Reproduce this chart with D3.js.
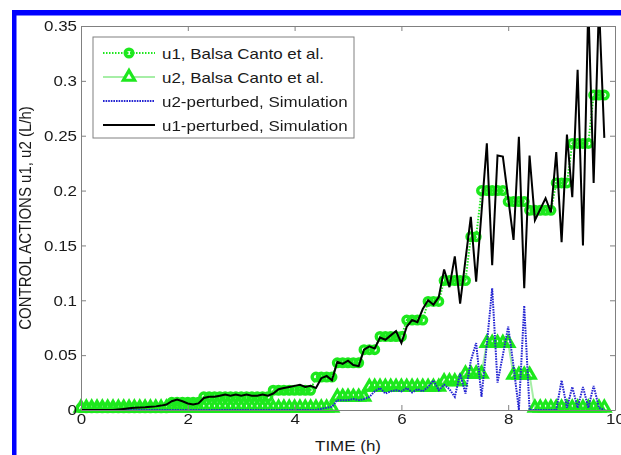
<!DOCTYPE html>
<html lang="en">
<head>
  <meta charset="UTF-8">
  <script src="https://d3js.org/d3.v7.min.js"></script>
  <style>
    body { margin: 0; background: white; }
    text { font-family: 'Liberation Sans', Arial, sans-serif; fill: #1a1a1a; }
  </style>
</head>
<body>
  <svg id="chart" width="621" height="455"></svg>
  <script>
    // time samples (h)
    const time = [0, 0.1, 0.2, 0.3, 0.4, 0.5, 0.6, 0.7, 0.8, 0.9,
      1, 1.1, 1.2, 1.3, 1.4, 1.5, 1.6, 1.7, 1.8, 1.9,
      2, 2.1, 2.2, 2.3, 2.4, 2.5, 2.6, 2.7, 2.8, 2.9,
      3, 3.1, 3.2, 3.3, 3.4, 3.5, 3.6, 3.7, 3.8, 3.9,
      4, 4.1, 4.2, 4.3, 4.4, 4.5, 4.6, 4.7, 4.8, 4.9,
      5, 5.1, 5.2, 5.3, 5.4, 5.5, 5.6, 5.7, 5.8, 5.9,
      6, 6.1, 6.2, 6.3, 6.4, 6.5, 6.6, 6.7, 6.8, 6.9,
      7, 7.1, 7.2, 7.3, 7.4, 7.5, 7.6, 7.7, 7.8, 7.9,
      8, 8.1, 8.2, 8.3, 8.4, 8.5, 8.6, 8.7, 8.8, 8.9,
      9, 9.1, 9.2, 9.3, 9.4, 9.5, 9.6, 9.7, 9.8];

    // u1, Balsa Canto et al. (piecewise constant)
    const u1Balsa = [0.002, 0.002, 0.002, 0.002, 0.002, 0.002, 0.002, 0.002, 0.002, 0.002,
      0.002, 0.002, 0.002, 0.002, 0.002, 0.002, 0.002, 0.007, 0.007, 0.007,
      0.007, 0.007, 0.007, 0.012, 0.012, 0.012, 0.012, 0.012, 0.012, 0.012,
      0.012, 0.012, 0.012, 0.012, 0.012, 0.012, 0.018, 0.018, 0.018, 0.018,
      0.018, 0.018, 0.018, 0.018, 0.030, 0.030, 0.030, 0.030, 0.043, 0.043,
      0.043, 0.043, 0.043, 0.055, 0.055, 0.055, 0.067, 0.067, 0.067, 0.067,
      0.067, 0.082, 0.082, 0.082, 0.082, 0.099, 0.099, 0.099, 0.118, 0.118,
      0.118, 0.118, 0.118, 0.158, 0.158, 0.200, 0.200, 0.200, 0.200, 0.200,
      0.190, 0.190, 0.190, 0.190, 0.182, 0.182, 0.182, 0.182, 0.182, 0.207,
      0.207, 0.207, 0.243, 0.243, 0.243, 0.243, 0.287, 0.287, 0.287];

    // u2, Balsa Canto et al.
    const u2Balsa = [0.002, 0.002, 0.002, 0.002, 0.002, 0.002, 0.002, 0.002, 0.002, 0.002,
      0.002, 0.002, 0.002, 0.002, 0.002, 0.002, 0.002, 0.002, 0.002, 0.002,
      0.002, 0.002, 0.002, 0.002, 0.002, 0.002, 0.002, 0.002, 0.002, 0.002,
      0.002, 0.002, 0.002, 0.002, 0.002, 0.002, 0.002, 0.002, 0.002, 0.002,
      0.002, 0.002, 0.002, 0.002, 0.002, 0.002, 0.002, 0.002, 0.012, 0.012,
      0.012, 0.012, 0.012, 0.012, 0.021, 0.021, 0.021, 0.021, 0.021, 0.021,
      0.021, 0.021, 0.021, 0.021, 0.021, 0.021, 0.021, 0.021, 0.026, 0.026,
      0.026, 0.026, 0.033, 0.033, 0.033, 0.033, 0.061, 0.061, 0.061, 0.061,
      0.061, 0.032, 0.032, 0.032, 0.032, 0.002, 0.002, 0.002, 0.002, 0.002,
      0.002, 0.002, 0.002, 0.002, 0.002, 0.002, 0.002, 0.002, 0.002];

    // u2-perturbed, Simulation
    const u2Pert = [0, 0, 0, 0, 0, 0, 0, 0, 0, 0,
      0, 0, 0, 0, 0, 0, 0, 0, 0, 0,
      0, 0, 0, 0, 0, 0, 0, 0, 0, 0,
      0, 0, 0, 0, 0, 0, 0, 0, 0, 0,
      0, 0, 0, 0, 0, 0.001, 0.002, 0.003, 0.009, 0.009,
      0.009, 0.010, 0.009, 0.010, 0.012, 0.017, 0.020, 0.015, 0.017, 0.018,
      0.017, 0.020, 0.016, 0.019, 0.017, 0.021, 0.027, 0.018, 0.023, 0.019,
      0.012, 0.033, 0.015, 0.045, 0.061, 0.012, 0.060, 0.111, 0.025, 0.050,
      0.076, 0.040, 0.000, 0.095, 0.000, 0, 0, 0, 0, 0,
      0.027, 0.002, 0.021, 0.002, 0.021, 0.002, 0.022, 0.002, 0];

    // u1-perturbed, Simulation
    const u1Pert = [0, 0, 0, 0, 0, 0, 0, 0.0005, 0.001, 0.0015,
      0.002, 0.0022, 0.0025, 0.003, 0.0033, 0.004, 0.005, 0.008, 0.0095, 0.008,
      0.006, 0.005, 0.006, 0.011, 0.012, 0.012, 0.013, 0.014, 0.013, 0.014,
      0.013, 0.014, 0.013, 0.013, 0.014, 0.013, 0.015, 0.019, 0.020, 0.021,
      0.022, 0.023, 0.021, 0.022, 0.020, 0.029, 0.031, 0.027, 0.044, 0.042,
      0.045, 0.041, 0.040, 0.055, 0.058, 0.056, 0.066, 0.064, 0.068, 0.072,
      0.061, 0.076, 0.082, 0.080, 0.092, 0.100, 0.096, 0.103, 0.128, 0.112,
      0.140, 0.097, 0.137, 0.176, 0.117, 0.180, 0.243, 0.132, 0.232, 0.231,
      0.193, 0.155, 0.249, 0.111, 0.232, 0.173, 0.183, 0.193, 0.180, 0.235,
      0.153, 0.251, 0.194, 0.310, 0.150, 0.370, 0.207, 0.370, 0.248];

    const xTicks = [0, 2, 4, 6, 8, 10];
    const yTicks = [0, 0.05, 0.1, 0.15, 0.2, 0.25, 0.3, 0.35];
    const yTickLabels = ['0', '0.05', '0.1', '0.15', '0.2', '0.25', '0.3', '0.35'];
    const legendLabels = ['u1, Balsa Canto et al.', 'u2, Balsa Canto et al.',
      'u2-perturbed, Simulation', 'u1-perturbed, Simulation'];

    const svg = d3.select('#chart');
    const sx = 1.13; // horizontal stretch of the original figure's text

    const x = d3.scaleLinear().domain([0, 10]).range([81, 615]);
    const y = d3.scaleLinear().domain([0, 0.35]).range([410, 26]);

    const green = '#1ee81e';
    const paleGreen = '#a6eea6';
    const blue = '#2424d2';

    // blue frame
    svg.append('rect').attr('x', 12).attr('y', 10).attr('width', 609).attr('height', 5.5).attr('fill', '#0000ff');
    svg.append('rect').attr('x', 12).attr('y', 10).attr('width', 4.5).attr('height', 445).attr('fill', '#0000ff');

    const defs = svg.append('defs');
    defs.append('clipPath').attr('id', 'clip')
      .append('rect').attr('x', 81).attr('y', 26).attr('width', 534).attr('height', 384);
    // soften the dense markers a little, like the scanned original
    defs.append('filter').attr('id', 'soft')
      .append('feGaussianBlur').attr('stdDeviation', 0.6);

    const pts = arr => time.map((t, i) => ({ t: t, v: arr[i] }));
    const line = d3.line().x(d => x(d.t)).y(d => y(d.v));

    const plot = svg.append('g');

    // u1 Balsa: dotted green + circles
    plot.append('path').datum(pts(u1Balsa)).attr('d', line)
      .attr('fill', 'none').attr('stroke', green).attr('stroke-width', 2).attr('stroke-dasharray', '1.5,1.5');
    plot.append('g').attr('filter', 'url(#soft)')
      .selectAll('circle').data(pts(u1Balsa)).join('circle')
      .attr('cx', d => x(d.t)).attr('cy', d => y(d.v)).attr('r', 3.8)
      .attr('fill', 'none').attr('stroke', green).attr('stroke-width', 3.4);

    // u2 Balsa: pale green + triangles
    const tri = d3.symbol(d3.symbolTriangle, 55);
    plot.append('path').datum(pts(u2Balsa)).attr('d', line)
      .attr('fill', 'none').attr('stroke', paleGreen).attr('stroke-width', 2);
    plot.append('g').attr('filter', 'url(#soft)')
      .selectAll('path').data(pts(u2Balsa)).join('path')
      .attr('d', tri).attr('transform', d => 'translate(' + x(d.t) + ',' + y(d.v) + ')')
      .attr('fill', 'none').attr('stroke', green).attr('stroke-width', 3.2);

    // u2-perturbed: blue dotted
    plot.append('path').datum(pts(u2Pert)).attr('d', line).attr('clip-path', 'url(#clip)')
      .attr('fill', 'none').attr('stroke', blue).attr('stroke-width', 2).attr('stroke-dasharray', '1.6,1');

    // u1-perturbed: black
    plot.append('path').datum(pts(u1Pert)).attr('d', line).attr('clip-path', 'url(#clip)')
      .attr('fill', 'none').attr('stroke', '#000').attr('stroke-width', 2).attr('stroke-linejoin', 'miter');

    // axes box
    const axisColor = '#808080';
    const styleAxis = g => {
      g.select('.domain').attr('stroke', axisColor);
      g.selectAll('.tick line').attr('stroke', axisColor);
      g.selectAll('.tick text').attr('font-size', 15).attr('fill', '#1a1a1a')
        .attr('font-family', "'Liberation Sans', Arial, sans-serif");
    };

    svg.append('g').attr('transform', 'translate(0,410)')
      .call(d3.axisBottom(x).tickValues(xTicks).tickFormat(d3.format('d')).tickSize(-5).tickSizeOuter(0).tickPadding(3))
      .call(styleAxis)
      .call(g => g.selectAll('.tick text').attr('transform', 'scale(' + sx + ',1)'));
    svg.append('g').attr('transform', 'translate(0,26)')
      .call(d3.axisTop(x).tickValues(xTicks).tickFormat('').tickSize(-5).tickSizeOuter(0))
      .call(styleAxis);
    svg.append('g').attr('transform', 'translate(81,0)')
      .call(d3.axisLeft(y).tickValues(yTicks).tickFormat((d, i) => yTickLabels[i]).tickSize(-5).tickSizeOuter(0).tickPadding(4))
      .call(styleAxis)
      .call(g => g.selectAll('.tick text').attr('x', -4 / sx).attr('transform', 'scale(' + sx + ',1)'));
    svg.append('g').attr('transform', 'translate(615,0)')
      .call(d3.axisRight(y).tickValues(yTicks).tickFormat('').tickSize(-5).tickSizeOuter(0))
      .call(styleAxis);

    // axis labels
    svg.append('text').text('TIME (h)')
      .attr('transform', 'translate(348,451) scale(' + sx + ',1)')
      .attr('text-anchor', 'middle').attr('font-size', 15);
    svg.append('text').text('CONTROL ACTIONS u1, u2 (L/h)')
      .attr('transform', 'translate(31,218) scale(' + sx + ',1) rotate(-90)')
      .attr('text-anchor', 'middle').attr('font-size', 15);

    // legend
    const legend = svg.append('g');
    legend.append('rect').attr('x', 93).attr('y', 37).attr('width', 261).attr('height', 101)
      .attr('fill', 'white').attr('stroke', axisColor);
    const rowY = [53, 77, 101, 125];
    const lx0 = 103, lx1 = 155, lmid = 129;

    legend.append('line').attr('x1', lx0).attr('x2', lx1).attr('y1', rowY[0]).attr('y2', rowY[0])
      .attr('stroke', green).attr('stroke-width', 2).attr('stroke-dasharray', '1.5,1.5');
    legend.append('circle').attr('cx', lmid).attr('cy', rowY[0]).attr('r', 3.8)
      .attr('fill', 'none').attr('stroke', green).attr('stroke-width', 3.4);

    legend.append('line').attr('x1', lx0).attr('x2', lx1).attr('y1', rowY[1]).attr('y2', rowY[1])
      .attr('stroke', paleGreen).attr('stroke-width', 2);
    legend.append('path').attr('d', tri).attr('transform', 'translate(' + lmid + ',' + rowY[1] + ')')
      .attr('fill', 'white').attr('stroke', green).attr('stroke-width', 3.2);

    legend.append('line').attr('x1', lx0).attr('x2', lx1).attr('y1', rowY[2]).attr('y2', rowY[2])
      .attr('stroke', blue).attr('stroke-width', 2).attr('stroke-dasharray', '1.6,1');

    legend.append('line').attr('x1', lx0).attr('x2', lx1).attr('y1', rowY[3]).attr('y2', rowY[3])
      .attr('stroke', '#000').attr('stroke-width', 2);

    legendLabels.forEach((d, i) => {
      legend.append('text').text(d)
        .attr('transform', 'translate(162,' + (rowY[i] + 5.5) + ') scale(' + sx + ',1)')
        .attr('font-size', 15);
    });
  </script>
</body>
</html>
